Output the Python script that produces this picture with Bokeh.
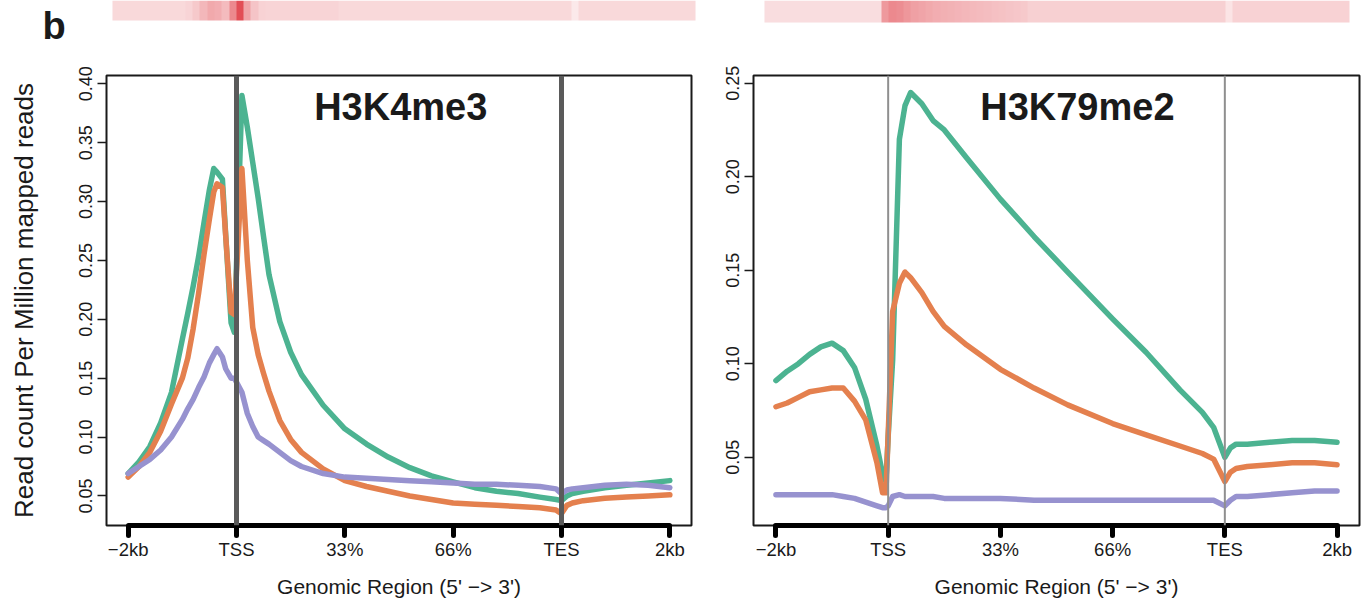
import numpy as np
from bokeh.plotting import figure
from bokeh.models import (Range1d, FixedTicker, Span, Label, LinearAxis,
                          LinearColorMapper, NumeralTickFormatter)
from bokeh.layouts import column, row
from bokeh.embed import file_html
from bokeh.resources import INLINE

FONT = "Liberation Sans"

# ---------------- data ----------------
x_ticks = [0, 1, 2, 3, 4, 5]
x_tick_labels = ["\u22122kb", "TSS", "33%", "66%", "TES", "2kb"]
series_names = ["green", "orange", "purple"]

# H3K4me3 panel
xl = [0, 0.1, 0.2, 0.3, 0.4, 0.5, 0.55, 0.6, 0.65, 0.7, 0.75, 0.79, 0.82, 0.87, 0.9, 0.95, 0.98,
      1.05, 1.1, 1.15, 1.2, 1.25, 1.3, 1.4, 1.5, 1.6, 1.8, 2.0, 2.2, 2.4, 2.6, 2.8, 3.0, 3.2, 3.4,
      3.6, 3.8, 3.95, 4.0, 4.05, 4.1, 4.2, 4.4, 4.6, 4.8, 5.0]
k4_green = [0.069, 0.079, 0.092, 0.112, 0.138, 0.183, 0.205, 0.228, 0.253, 0.282, 0.310,
            0.328, 0.325, 0.319, 0.272, 0.197, 0.189, 0.390, 0.363, 0.333, 0.303, 0.270, 0.238,
            0.198, 0.172, 0.153, 0.127, 0.107, 0.094, 0.083, 0.074, 0.067, 0.062, 0.057, 0.054,
            0.052, 0.049, 0.047, 0.046, 0.050, 0.052, 0.054, 0.057, 0.059, 0.061, 0.063]
k4_orange = [0.066, 0.075, 0.087, 0.105, 0.128, 0.150, 0.167, 0.192, 0.222, 0.255, 0.285,
             0.308, 0.315, 0.312, 0.271, 0.206, 0.204, 0.328, 0.250, 0.193, 0.170, 0.154, 0.139,
             0.114, 0.098, 0.087, 0.073, 0.063, 0.058, 0.054, 0.050, 0.047, 0.044, 0.043, 0.042,
             0.041, 0.040, 0.038, 0.035, 0.042, 0.044, 0.046, 0.048, 0.049, 0.050, 0.051]
k4_purple = [0.069, 0.075, 0.081, 0.089, 0.100, 0.115, 0.124, 0.132, 0.142, 0.151, 0.163,
             0.170, 0.175, 0.168, 0.158, 0.150, 0.150, 0.138, 0.120, 0.109, 0.100, 0.097, 0.094,
             0.087, 0.080, 0.075, 0.069, 0.066, 0.065, 0.064, 0.063, 0.062, 0.061, 0.060, 0.060,
             0.059, 0.058, 0.056, 0.052, 0.055, 0.056, 0.057, 0.059, 0.060, 0.059, 0.057]
k4_yticks = [0.05, 0.10, 0.15, 0.20, 0.25, 0.30, 0.35, 0.40]

# H3K79me2 panel
xr = [0, 0.1, 0.2, 0.3, 0.4, 0.5, 0.6, 0.7, 0.8, 0.9, 0.95, 0.98, 1.0, 1.04, 1.1, 1.15, 1.2,
      1.3, 1.4, 1.5, 1.7, 2.0, 2.3, 2.6, 3.0, 3.3, 3.6, 3.8, 3.9, 4.0, 4.05, 4.1, 4.2, 4.4, 4.6,
      4.8, 5.0]
k79_green = [0.091, 0.096, 0.100, 0.105, 0.109, 0.111, 0.107, 0.098, 0.081, 0.056, 0.041,
             0.037, 0.061, 0.102, 0.220, 0.238, 0.245, 0.239, 0.230, 0.225, 0.210, 0.188, 0.168,
             0.149, 0.124, 0.106, 0.086, 0.074, 0.066, 0.050, 0.055, 0.057, 0.057, 0.058, 0.059,
             0.059, 0.058]
k79_orange = [0.077, 0.079, 0.082, 0.085, 0.086, 0.087, 0.087, 0.080, 0.070, 0.047, 0.031,
              0.031, 0.062, 0.128, 0.143, 0.149, 0.146, 0.138, 0.128, 0.120, 0.110, 0.097, 0.087,
              0.078, 0.068, 0.062, 0.056, 0.052, 0.049, 0.037, 0.042, 0.044, 0.045, 0.046, 0.047,
              0.047, 0.046]
k79_purple = [0.030, 0.030, 0.030, 0.030, 0.030, 0.030, 0.029, 0.028, 0.026, 0.024, 0.023,
              0.023, 0.024, 0.029, 0.030, 0.029, 0.029, 0.029, 0.029, 0.028, 0.028, 0.028, 0.027,
              0.027, 0.027, 0.027, 0.027, 0.027, 0.027, 0.024, 0.027, 0.029, 0.029, 0.030, 0.031,
              0.032, 0.032]
k79_yticks = [0.05, 0.10, 0.15, 0.20, 0.25]

# heatmap column intensity profiles (top strips, cropped)
heat_left = [0.17, 0.17, 0.17, 0.17, 0.17, 0.17, 0.17, 0.17, 0.17, 0.17, 0.19,
             0.24, 0.32, 0.38, 0.36, 0.30, 0.52, 0.78, 0.40, 0.26,
             0.20, 0.19, 0.19, 0.19, 0.19, 0.19, 0.19, 0.19, 0.19, 0.19, 0.19,
             0.17, 0.17, 0.17, 0.17, 0.17, 0.17, 0.17, 0.17, 0.17, 0.17, 0.17, 0.17, 0.17, 0.17,
             0.17, 0.17, 0.17, 0.17, 0.17, 0.17, 0.17, 0.17, 0.17, 0.17, 0.17, 0.17, 0.17, 0.17,
             0.17, 0.17, 0.17, 0.17,
             0.10,
             0.17, 0.17, 0.17, 0.17, 0.17, 0.17, 0.17, 0.17, 0.17, 0.17, 0.17, 0.17, 0.17, 0.17,
             0.17, 0.17]
heat_right = [0.15, 0.15, 0.15, 0.15, 0.15, 0.15, 0.15, 0.15, 0.15, 0.15, 0.15, 0.15, 0.15,
              0.15, 0.15, 0.15,
              0.45, 0.52, 0.50, 0.46, 0.42, 0.40, 0.38,
              0.36, 0.35, 0.34, 0.33, 0.32, 0.31, 0.30, 0.29, 0.28, 0.27, 0.26, 0.25, 0.24,
              0.21, 0.21, 0.21, 0.21, 0.21, 0.21, 0.21, 0.21, 0.21, 0.21, 0.21, 0.21, 0.21, 0.21,
              0.21, 0.21, 0.21, 0.21, 0.21, 0.21, 0.21, 0.21, 0.21, 0.21, 0.21, 0.21, 0.21,
              0.12,
              0.20, 0.20, 0.20, 0.20, 0.20, 0.20, 0.20, 0.20, 0.20, 0.20, 0.20, 0.20, 0.20, 0.20,
              0.20, 0.20]

# ---------------- style ----------------
COLORS = ["#4cb391", "#e4804e", "#9792cf"]
INK = "#1a1a1a"


def red_palette(n=256):
    lo, hi = (255, 255, 255), (218, 28, 38)
    out = []
    for i in range(n):
        t = i / (n - 1)
        c = [round(lo[j] + (hi[j] - lo[j]) * t) for j in range(3)]
        out.append("#%02x%02x%02x" % tuple(c))
    return out


mapper = LinearColorMapper(palette=red_palette(), low=0, high=1)

# top strip (cropped heatmaps + panel letter)
top = figure(width=1369, height=50, x_range=Range1d(0, 1369), y_range=Range1d(0, 50),
             output_backend="svg", toolbar_location=None, x_axis_type=None, y_axis_type=None,
             min_border=0)
top.outline_line_color = None
top.image(image=[np.array([heat_left])], x=112, y=30, dw=583, dh=20, color_mapper=mapper)
top.image(image=[np.array([heat_right])], x=764, y=28, dw=585, dh=22, color_mapper=mapper)
top.add_layout(Label(x=42, y=25, text="b", text_font=FONT, text_font_size="38px",
                     text_font_style="bold", text_color=INK, text_baseline="alphabetic"))


def make_panel(width, bl, br, xs, ys_list, yticks, yrange, title, tpos, vcol, vw, ylabel=None):
    p = figure(width=width, height=553, x_range=Range1d(-0.2, 5.2), y_range=Range1d(*yrange),
               output_backend="svg", toolbar_location=None, x_axis_type=None, y_axis_type=None,
               min_border_left=bl, min_border_right=br, min_border_top=25, min_border_bottom=78)
    p.outline_line_color = INK
    p.outline_line_width = 2
    for ys, c in zip(ys_list, COLORS):
        p.line(xs, ys, line_color=c, line_width=5.5, line_join="round", line_cap="round")
    for loc in (x_ticks[1], x_ticks[4]):
        p.add_layout(Span(location=loc, dimension="height", line_color=vcol, line_width=vw))

    xa = LinearAxis(ticker=FixedTicker(ticks=x_ticks), bounds=(x_ticks[0], x_ticks[-1]),
                    major_label_overrides={t: l for t, l in zip(x_ticks, x_tick_labels)},
                    axis_label="Genomic Region (5' \u2212> 3')")
    xa.axis_line_width = 5
    xa.axis_line_color = "black"
    xa.major_tick_line_width = 5
    xa.major_tick_line_color = "black"
    xa.major_tick_line_cap = "round"
    xa.major_tick_out = 10
    xa.major_tick_in = 0
    xa.minor_tick_line_color = None
    xa.major_label_standoff = 3
    xa.major_label_text_font = FONT
    xa.major_label_text_font_size = "18.5px"
    xa.major_label_text_color = INK
    xa.axis_label_text_font = FONT
    xa.axis_label_text_font_size = "21px"
    xa.axis_label_text_font_style = "normal"
    xa.axis_label_text_color = INK
    xa.axis_label_standoff = 12
    p.add_layout(xa, "below")

    ya = LinearAxis(ticker=FixedTicker(ticks=yticks), formatter=NumeralTickFormatter(format="0.00"))
    ya.axis_line_color = None
    ya.major_tick_out = 9
    ya.major_tick_in = 0
    ya.major_tick_line_width = 1.5
    ya.major_tick_line_color = INK
    ya.minor_tick_line_color = None
    ya.major_label_orientation = "vertical"
    ya.major_label_standoff = 5
    ya.major_label_text_font = FONT
    ya.major_label_text_font_size = "18px"
    ya.major_label_text_color = INK
    if ylabel:
        ya.axis_label = ylabel
        ya.axis_label_text_font = FONT
        ya.axis_label_text_font_size = "26px"
        ya.axis_label_text_font_style = "normal"
        ya.axis_label_text_color = INK
        ya.axis_label_standoff = 38
    p.add_layout(ya, "left")

    p.add_layout(Label(x=tpos[0], y=tpos[1], text=title, text_font=FONT, text_font_size="38px",
                       text_font_style="bold", text_color=INK, text_align="center",
                       text_baseline="alphabetic"))
    return p


left = make_panel(700, 106, 9, xl, [k4_green, k4_orange, k4_purple], k4_yticks,
                  (0.0249, 0.407), "H3K4me3", (2.516, 0.380), "#5a5a5a", 5,
                  ylabel="Read count Per Million mapped reads")
right = make_panel(669, 53, 10, xr, [k79_green, k79_orange, k79_purple], k79_yticks,
                   (0.0135, 0.2541), "H3K79me2", (2.686, 0.237), "#8f8f8f", 2)

layout = column(top, row(left, right, spacing=0), spacing=0)
open("out.html", "w").write(file_html(layout, INLINE))
